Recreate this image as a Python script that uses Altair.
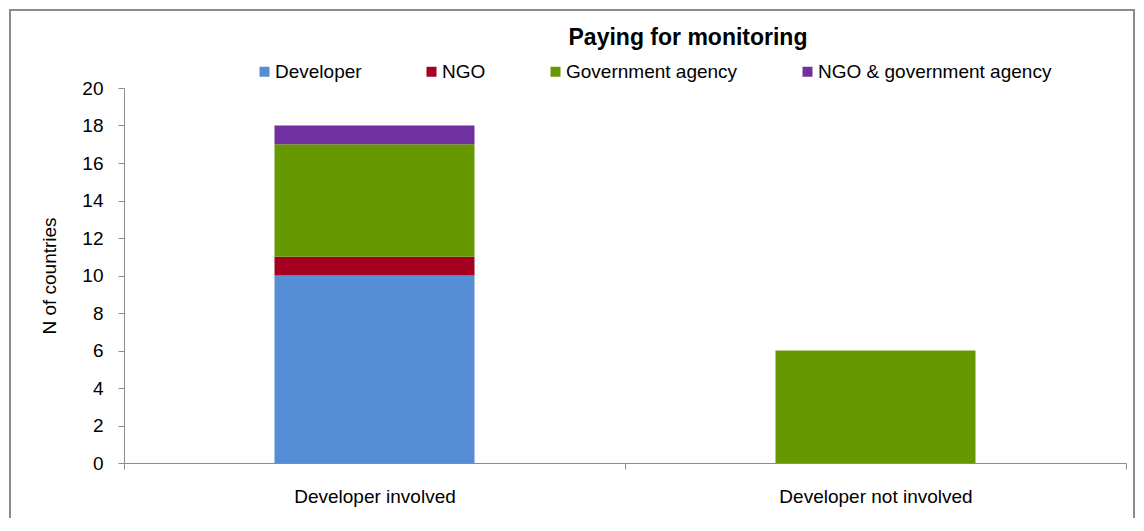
import altair as alt
import pandas as pd

categories = ["Developer involved", "Developer not involved"]
series = ["Developer", "NGO", "Government agency", "NGO & government agency"]
colors = ["#558ED5", "#A50021", "#669900", "#7030A0"]
developer = [10, 0]
ngo = [1, 0]
government = [6, 6]
ngo_gov = [1, 0]
y_ticks = [0, 2, 4, 6, 8, 10, 12, 14, 16, 18, 20]

rows = []
for s_idx, (name, vals) in enumerate(zip(series, [developer, ngo, government, ngo_gov])):
    for cat, v in zip(categories, vals):
        if v > 0:
            rows.append({"category": cat, "payer": name, "n": v, "order": s_idx})
df = pd.DataFrame(rows)

FONT = "Liberation Sans"

border = alt.Chart(alt.Data(values=[{}])).mark_rect(
    filled=False, fillOpacity=0, stroke="#8c8c8c", strokeWidth=2
).encode(
    x=alt.value(-114), x2=alt.value(1010), y=alt.value(-78), y2=alt.value(520)
)

bars = alt.Chart(df).mark_bar(size=200).encode(
    x=alt.X("category:N", sort=categories,
            scale=alt.Scale(paddingInner=0, paddingOuter=0),
            axis=alt.Axis(title=None, labelAngle=0, tickBand="extent",
                          domainColor="#8c8c8c", tickColor="#8c8c8c",
                          tickSize=6, labelPadding=18, labelFontSize=19,
                          labelFont=FONT, labelColor="#000000", grid=False,
                          labelLimit=0)),
    y=alt.Y("n:Q", stack="zero",
            scale=alt.Scale(domain=[0, 20], nice=False),
            axis=alt.Axis(title="N of countries", values=y_ticks, grid=False,
                          domainColor="#8c8c8c", tickColor="#8c8c8c",
                          tickSize=6, labelPadding=15, labelFontSize=19,
                          labelFont=FONT, labelColor="#000000",
                          titleFont=FONT, titleFontSize=19, titleFontWeight="normal",
                          titleColor="#000000", titlePadding=22)),
    color=alt.Color("payer:N",
                    scale=alt.Scale(domain=series, range=colors),
                    legend=alt.Legend(title=None, orient="none", direction="horizontal",
                                      legendX=131, legendY=-26, padding=0,
                                      symbolType="square", symbolSize=100,
                                      symbolStrokeWidth=0, labelOffset=1,
                                      columnPadding=60, labelFontSize=19,
                                      labelFont=FONT, labelColor="#000000",
                                      labelLimit=0)),
    order=alt.Order("order:Q"),
)

chart = alt.layer(border, bars).properties(
    width=1002, height=375,
    title=alt.TitleParams("Paying for monitoring", font=FONT, fontSize=23,
                          fontWeight="bold", color="#000000", anchor="middle",
                          dx=63, offset=-41),
    autosize=alt.AutoSizeParams(type="none"),
    padding={"left": 116, "top": 80, "right": 10, "bottom": 55},
).configure_view(stroke=None)

chart.save("out.html", embed_options={"renderer": "svg", "actions": False})
